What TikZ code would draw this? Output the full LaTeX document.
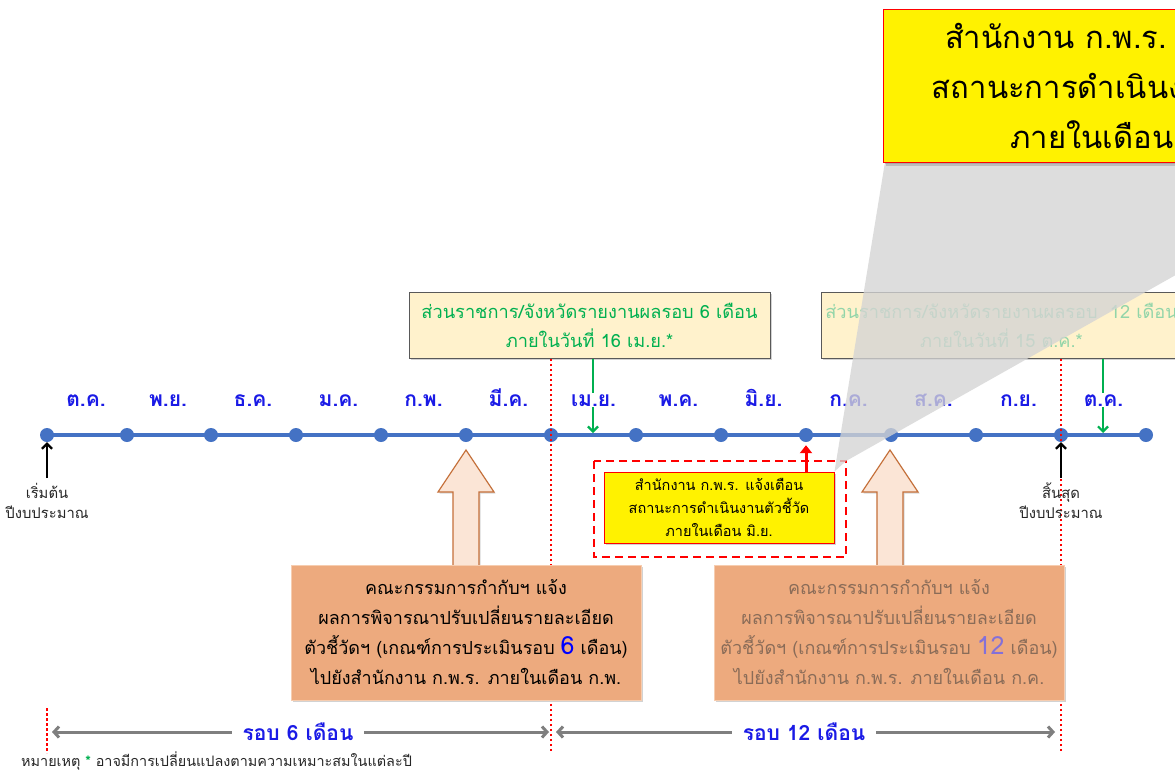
\documentclass[tikz,border=0pt]{standalone}
\usepackage{fontspec}
\newfontfamily\thai[Script=Thai]{Loma}
\usetikzlibrary{arrows.meta,shadows}
\definecolor{tlblue}{HTML}{4472C4}
\definecolor{monthblue}{HTML}{1A1AE6}
\definecolor{okgreen}{HTML}{00B050}
\definecolor{fadegreen}{HTML}{92D5A9}
\definecolor{creamfill}{HTML}{FFF2CC}
\definecolor{boxgray}{HTML}{595959}
\definecolor{tanfill}{HTML}{EDAA7E}
\definecolor{tanedge}{HTML}{F6CDB0}
\definecolor{fadetext}{HTML}{8A6C58}
\definecolor{fadepurple}{HTML}{8470D8}
\definecolor{peachfill}{HTML}{FBE5D6}
\definecolor{peachedge}{HTML}{C5703A}
\definecolor{arrowgray}{HTML}{7F7F7F}
\definecolor{zoomgray}{HTML}{D4D4D4}
\begin{document}
\begin{tikzpicture}[x=1pt,y=-1pt,
  month/.style={font=\thai\bfseries\fontsize{21}{24}\selectfont, text=monthblue, fill=white, inner sep=1pt, anchor=base},
  tldot/.style={circle, fill=tlblue, minimum size=14pt, inner sep=0pt},
  topbox/.style={draw=boxgray, fill=creamfill, line width=0.8pt, minimum width=361pt, minimum height=66pt, align=center,
    font=\thai\fontsize{18.2}{29}\selectfont, drop shadow={shadow xshift=1.5pt, shadow yshift=-1.5pt, opacity=0.35}},
  tanbox/.style={draw=tanedge, fill=tanfill, line width=1pt, minimum width=350pt, minimum height=135pt, align=center,
    font=\thai\fontsize{18}{30}\selectfont, drop shadow={shadow xshift=2pt, shadow yshift=-2pt, opacity=0.35}},
  warnbox/.style={draw=red, fill=yellow, line width=1pt, align=center,
    drop shadow={shadow xshift=1.5pt, shadow yshift=-1.5pt, opacity=0.35}},
  reddots/.style={red, line width=2pt, dash pattern=on 2.5pt off 2.5pt},
  greenarrow/.style={okgreen, line width=2.2pt, -{Straight Barb[length=5pt,width=10pt]}},
  blackarrow/.style={black, line width=2.2pt, -{Straight Barb[length=5pt,width=10pt]}},
  roundarrow/.style={arrowgray, line width=3pt, {Straight Barb[length=5pt,width=11pt]}-{Straight Barb[length=5pt,width=11pt]}},
  roundlabel/.style={font=\thai\bfseries\fontsize{21}{24}\selectfont, text=monthblue, fill=white, inner xsep=11pt, inner ysep=6pt},
  peach/.style={fill=peachfill, draw=peachedge, line width=1.2pt, line join=miter,
    drop shadow={shadow xshift=1.5pt, shadow yshift=-1.5pt, opacity=0.3}},
  small/.style={font=\thai\fontsize{14.8}{20}\selectfont, align=center, text=black!85}
]
\clip (0,0) rectangle (1175,772);
\fill[white] (0,0) rectangle (1175,772);

% top boxes
\node[topbox, text=okgreen] (tb1) at (589.5,325.5) {ส่วนราชการ/จังหวัดรายงานผลรอบ 6 เดือน\\ภายในวันที่ 16 เม.ย.*};
\node[topbox, text=fadegreen] (tb2) at (1001.5,325.5) {ส่วนราชการ/จังหวัดรายงานผลรอบ~ 12 เดือน\\ภายในวันที่ 15 ต.ค.*};

% timeline
\foreach \n/\x in {0/47,1/127,2/211,3/296,4/381,5/466,6/551,7/636,8/721,9/806,10/891,11/976,12/1061,13/1146}
  \coordinate (p\n) at (\x,435);
\draw[tlblue, line width=3.5pt] (p0) -- (p13);
\foreach \n in {0,...,13} \node[tldot] (d\n) at (p\n) {};

% green arrows
\coordinate (g1) at (593,433);
\coordinate (g2) at (1103,433);
\draw[greenarrow] (tb1.south -| g1) -- (g1);
\draw[greenarrow] (tb2.south -| g2) -- (g2);

% month labels
\foreach \x/\m [count=\i] in {86/ต.ค.,168/พ.ย.,253/ธ.ค.,338.5/ม.ค.,423.5/ก.พ.,508.5/มี.ค.,593.5/เม.ย.,678.5/พ.ค.,763.5/มิ.ย.,848.5/ก.ค.,933.5/ส.ค.,1018.5/ก.ย.,1103.5/ต.ค.}
  \node[month] (m\i) at (\x,406) {\m};

% red dotted lines
\coordinate (rb0) at (47,753);
\coordinate (rt0) at (47,708);
\coordinate (rb1) at (551,753);
\coordinate (rb2) at (1061,753);
\draw[reddots] (tb1.south -| rb1) -- (rb1);
\draw[reddots] (tb2.south -| rb2) -- (rb2);
\draw[reddots] (rt0) -- (rb0);

% start / end
\node[small] (start) at (47,501) {เริ่มต้น\\ปีงบประมาณ};
\node[small] (end) at (1061,501) {สิ้นสุด\\ปีงบประมาณ};
\draw[blackarrow] (47,478) -- (d0.south);
\draw[blackarrow] (1061,478) -- (d12.south);

% peach block arrows
\foreach \c/\nm in {466/pa1,890/pa2}{
  \draw[peach] (\c,450) -- (\c+28,492) -- (\c+13,492) -- (\c+13,566) -- (\c-13,566) -- (\c-13,492) -- (\c-28,492) -- cycle;
}

% bottom boxes
\node[tanbox] (bb1) at (466,632.5) {คณะกรรมการกำกับฯ แจ้ง\\ผลการพิจารณาปรับเปลี่ยนรายละเอียด\\ตัวชี้วัดฯ (เกณฑ์การประเมินรอบ {\color{blue}\fontsize{25}{30}\selectfont 6} เดือน)\\ไปยังสำนักงาน ก.พ.ร. ภายในเดือน ก.พ.};
\node[tanbox, text=fadetext] (bb2) at (889,632.5) {คณะกรรมการกำกับฯ แจ้ง\\ผลการพิจารณาปรับเปลี่ยนรายละเอียด\\ตัวชี้วัดฯ (เกณฑ์การประเมินรอบ {\color{fadepurple}\fontsize{25}{30}\selectfont 12} เดือน)\\ไปยังสำนักงาน ก.พ.ร. ภายในเดือน ก.ค.};

% dashed region, small warning box, red arrow
\draw[red, line width=2.2pt, dash pattern=on 8pt off 5pt] (594,461) rectangle (846,557);
\node[warnbox, minimum width=230pt, minimum height=71pt, font=\thai\fontsize{14.5}{23}\selectfont] (wb) at (719,507.5)
  {สำนักงาน ก.พ.ร. แจ้งเตือน\\สถานะการดำเนินงานตัวชี้วัด\\ภายในเดือน มิ.ย.};
\draw[red, line width=3pt, -{Triangle[length=8pt,width=12pt]}] (wb.north -| d9) -- ([yshift=-3pt]d9.south);

% round arrows
\coordinate (ra1) at (52,732);
\coordinate (ra2) at (549,732);
\coordinate (ra3) at (556,732);
\coordinate (ra4) at (1055,732);
\draw[roundarrow] (ra1) -- (ra2);
\draw[roundarrow] (ra3) -- (ra4);
\node[roundlabel] (r6) at (298,732) {รอบ 6 เดือน};
\node[roundlabel] (r12) at (804,732) {รอบ 12 เดือน};

% note
\node[anchor=west, font=\thai\fontsize{14.4}{16}\selectfont, inner sep=0pt, text=black!85] (note) at (21,761)
  {หมายเหตุ {\color{okgreen}\bfseries *} อาจมีการเปลี่ยนแปลงตามความเหมาะสมในแต่ละปี};

% zoom callout
\fill[zoomgray, opacity=0.78] (wb.north east) -- (885,162) -- (1376,162) -- (846,461) -- cycle;
\node[warnbox, line width=1.3pt, minimum width=493pt, minimum height=153pt, anchor=north west,
  drop shadow={shadow xshift=2pt, shadow yshift=-3pt, opacity=0.35}] (big) at (883,9) {};
\node[font=\thai\fontsize{31}{50}\selectfont, align=center] (bigtext) at (1125,86)
  {สำนักงาน ก.พ.ร. แจ้งเตือน\\สถานะการดำเนินงานตัวชี้วัด\\ภายในเดือน มิ.ย.};
\end{tikzpicture}
\end{document}
